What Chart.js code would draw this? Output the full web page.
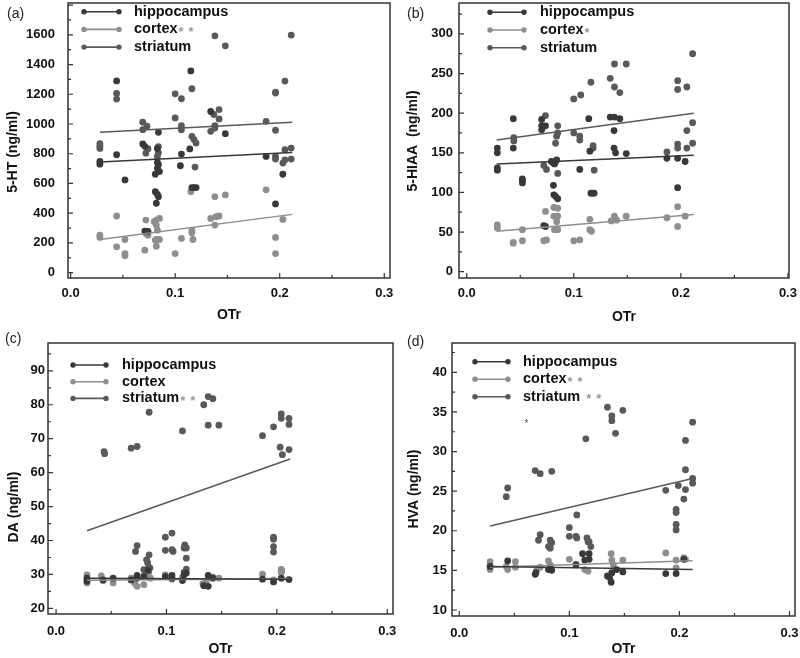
<!DOCTYPE html>
<html>
<head>
<meta charset="utf-8">
<title>OTr vs monoamines</title>
<script src="https://cdn.jsdelivr.net/npm/chart.js@4.4.1/dist/chart.umd.min.js"></script>
<style>
  body { margin: 0; background: #fff; }
  #wrap { position: relative; width: 800px; height: 658px; }
  canvas { position: absolute; }
</style>
</head>
<body>
<div id="wrap">
  <canvas id="chartA" width="400" height="330" style="left:0;top:0"></canvas>
  <canvas id="chartB" width="400" height="330" style="left:400px;top:0"></canvas>
  <canvas id="chartC" width="400" height="328" style="left:0;top:330px"></canvas>
  <canvas id="chartD" width="400" height="328" style="left:400px;top:330px"></canvas>
</div>
<script>
const regions = ['hippocampus', 'cortex', 'striatum'];
const regionColors = ['#383838', '#8e8e8e', '#595959'];
const fitX = [0.028, 0.212];
const xTicks = [0, 0.1, 0.2, 0.3];

// (a) 5-HT
const htHippocampus = [[0.028, 748], [0.028, 730], [0.044, 1290], [0.044, 793], [0.052, 624], [0.069, 866], [0.071, 850],
  [0.071, 280], [0.074, 278], [0.084, 944], [0.083, 836], [0.081, 662], [0.081, 545], [0.083, 527], [0.082, 467],
  [0.084, 511], [0.083, 741], [0.084, 726], [0.083, 703], [0.085, 680], [0.105, 719], [0.106, 798], [0.115, 1357],
  [0.114, 832], [0.116, 572], [0.118, 572], [0.120, 572], [0.134, 1084], [0.148, 935], [0.187, 782], [0.196, 462],
  [0.203, 662]];
const htCortex = [[0.028, 252], [0.028, 237], [0.044, 381], [0.044, 174], [0.052, 223], [0.052, 128], [0.052, 113],
  [0.072, 354], [0.072, 264], [0.074, 252], [0.071, 151], [0.080, 343], [0.082, 354], [0.082, 320], [0.085, 365],
  [0.083, 286], [0.082, 223], [0.082, 178], [0.085, 223], [0.081, 219], [0.1, 128], [0.106, 230], [0.115, 545],
  [0.116, 268], [0.116, 286], [0.117, 223], [0.138, 511], [0.134, 365], [0.138, 320], [0.139, 376], [0.142, 381],
  [0.148, 523], [0.187, 557], [0.196, 237], [0.196, 128], [0.203, 358]];
const htStriatum = [[0.028, 867], [0.028, 850], [0.028, 836], [0.044, 1206], [0.044, 1168], [0.069, 1012], [0.069, 962],
  [0.073, 985], [0.072, 804], [0.074, 834], [0.084, 848], [0.084, 806], [0.083, 782], [0.1, 1203], [0.1, 1041],
  [0.106, 989], [0.106, 962], [0.106, 1170], [0.116, 1237], [0.116, 917], [0.118, 895], [0.120, 872], [0.119, 710],
  [0.134, 951], [0.137, 1064], [0.138, 989], [0.138, 973], [0.138, 1593], [0.142, 1097], [0.142, 1034], [0.148, 1526],
  [0.187, 1018], [0.196, 1215], [0.196, 1208], [0.196, 958], [0.196, 782], [0.196, 764], [0.203, 737], [0.205, 1289],
  [0.205, 827], [0.205, 759], [0.211, 1598], [0.211, 838], [0.211, 764]];
const htFits = [[744, 809], [223, 392], [944, 1012]];
const htTicks = [0, 200, 400, 600, 800, 1000, 1200, 1400, 1600];
const htStars = ['', '**', ''];

// (b) 5-HIAA
const hiaaHippocampus = [[0.0286, 131], [0.0286, 128], [0.0286, 156], [0.0286, 150], [0.0435, 193], [0.0435, 156],
  [0.052, 117], [0.052, 115], [0.052, 112], [0.070, 192], [0.070, 184], [0.070, 179], [0.0736, 184], [0.072, 58],
  [0.0736, 57], [0.079, 139], [0.081, 137], [0.082, 136], [0.083, 139], [0.084, 141], [0.081, 109], [0.0814, 97],
  [0.083, 95], [0.085, 92], [0.1056, 129], [0.114, 193], [0.115, 152], [0.116, 99], [0.1174, 99], [0.119, 99],
  [0.134, 195], [0.138, 195], [0.143, 193], [0.1376, 178], [0.1376, 156], [0.139, 150], [0.149, 149], [0.187, 143],
  [0.197, 143], [0.197, 106], [0.204, 139]];
const hiaaCortex = [[0.0286, 59], [0.0286, 55], [0.0435, 37], [0.0435, 36], [0.052, 53], [0.052, 39], [0.0736, 76],
  [0.072, 39], [0.0745, 40], [0.0814, 81], [0.0814, 70], [0.082, 53], [0.084, 63], [0.085, 80], [0.085, 70],
  [0.085, 53], [0.100, 39], [0.1056, 40], [0.115, 66], [0.115, 53], [0.1165, 51], [0.135, 64], [0.138, 70],
  [0.14, 65], [0.149, 70], [0.187, 68], [0.197, 82], [0.197, 57], [0.204, 70]];
const hiaaStriatum = [[0.044, 169], [0.044, 165], [0.0736, 197], [0.072, 134], [0.0745, 129], [0.083, 162],
  [0.084, 171], [0.085, 175], [0.085, 184], [0.085, 124], [0.100, 218], [0.100, 175], [0.1065, 223], [0.1056, 171],
  [0.1056, 166], [0.116, 239], [0.118, 159], [0.118, 156], [0.119, 128], [0.134, 244], [0.138, 262], [0.138, 233],
  [0.143, 226], [0.149, 262], [0.187, 151], [0.197, 241], [0.197, 230], [0.197, 161], [0.197, 156], [0.2056, 233],
  [0.2056, 178], [0.2056, 156], [0.211, 275], [0.211, 188], [0.211, 162]];
const hiaaFits = [[136, 147], [51, 72], [166, 200]];
const hiaaTicks = [0, 50, 100, 150, 200, 250, 300];
const hiaaStars = ['', '*', ''];

// (c) DA
const daHippocampus = [[0.028, 28.0], [0.028, 28.9], [0.0426, 28.4], [0.0517, 28.9], [0.068, 28.4], [0.0734, 29.7],
  [0.0734, 28.9], [0.0795, 29.4], [0.0834, 31.2], [0.099, 29.4], [0.105, 29.7], [0.105, 28.9], [0.1145, 28.2],
  [0.116, 29.9], [0.118, 30.4], [0.1338, 26.7], [0.1378, 26.5], [0.1378, 29.7], [0.142, 28.9], [0.187, 28.6],
  [0.197, 27.8], [0.211, 28.5], [0.204, 28.9]];
const daCortex = [[0.028, 29.9], [0.028, 27.5], [0.041, 29.6], [0.0426, 28.2], [0.0517, 27.5], [0.068, 28.9],
  [0.0713, 27.3], [0.0734, 26.5], [0.0795, 27.0], [0.082, 29.4], [0.084, 30.6], [0.0855, 28.9], [0.099, 29.9],
  [0.105, 28.6], [0.1145, 29.2], [0.133, 27.3], [0.136, 28.0], [0.139, 29.2], [0.142, 29.2], [0.1475, 28.9],
  [0.187, 30.1], [0.197, 28.4], [0.204, 31.4], [0.204, 30.6]];
const daStriatum = [[0.044, 65.6], [0.0435, 66.2], [0.068, 67.2], [0.0734, 67.7], [0.0843, 77.8], [0.1145, 72.3],
  [0.1338, 80.0], [0.1378, 82.4], [0.142, 81.8], [0.1378, 74.0], [0.1475, 74.0], [0.187, 70.9], [0.197, 73.5],
  [0.204, 77.3], [0.204, 76.0], [0.203, 67.5], [0.205, 65.3], [0.211, 76.0], [0.211, 74.2], [0.211, 66.8],
  [0.072, 36.8], [0.0734, 38.5], [0.082, 34.3], [0.083, 33.4], [0.0843, 35.8], [0.0834, 31.6], [0.0795, 31.4],
  [0.085, 31.9], [0.099, 41.0], [0.099, 37.1], [0.105, 42.2], [0.105, 37.3], [0.106, 36.8], [0.116, 37.8],
  [0.1166, 38.7], [0.118, 37.8], [0.118, 34.8], [0.118, 31.6], [0.116, 30.7], [0.197, 41.0], [0.197, 40.4],
  [0.197, 38.2], [0.197, 36.6], [0.204, 31.4], [0.204, 30.9]];
const daFits = [[28.9, 28.6], [28.3, 28.7], [42.9, 64.0]];
const daTicks = [20, 30, 40, 50, 60, 70, 80, 90];
const daStars = ['', '', '**'];

// (d) HVA
const hvaHippocampus = [[0.028, 15.5], [0.044, 16.2], [0.069, 14.5], [0.0696, 14.7], [0.081, 15.1], [0.0826, 15.3],
  [0.084, 15.0], [0.106, 15.7], [0.112, 17.1], [0.114, 16.3], [0.118, 17.1], [0.118, 16.4], [0.1346, 14.3],
  [0.1365, 14.1], [0.138, 13.5], [0.1386, 14.7], [0.143, 15.1], [0.1486, 14.8], [0.1876, 14.6], [0.197, 14.6],
  [0.204, 16.4]];
const hvaCortex = [[0.028, 16.1], [0.028, 15.1], [0.0427, 15.5], [0.044, 15.1], [0.051, 16.1], [0.051, 15.4],
  [0.0705, 15.1], [0.0735, 15.4], [0.081, 16.2], [0.0826, 15.7], [0.100, 16.4], [0.106, 15.8], [0.114, 15.1],
  [0.117, 14.9], [0.138, 17.1], [0.1386, 16.3], [0.14, 15.7], [0.1486, 16.3], [0.1876, 17.2], [0.197, 16.3],
  [0.197, 15.3], [0.204, 16.6], [0.2055, 16.4]];
const hvaStriatum = [[0.1346, 35.6], [0.1386, 34.5], [0.1386, 33.9], [0.1486, 35.2], [0.142, 32.3], [0.115, 31.6],
  [0.069, 27.6], [0.0735, 27.2], [0.084, 27.5], [0.044, 25.4], [0.0427, 24.3], [0.1068, 22.0], [0.100, 20.4],
  [0.100, 19.3], [0.106, 19.3], [0.1068, 19.1], [0.0735, 19.5], [0.072, 18.8], [0.0826, 18.8], [0.084, 18.5],
  [0.081, 18.0], [0.0826, 17.8], [0.116, 19.1], [0.117, 18.6], [0.118, 18.6], [0.1195, 18.0], [0.1876, 25.1],
  [0.199, 25.7], [0.197, 22.7], [0.197, 22.3], [0.197, 20.8], [0.197, 20.1], [0.2055, 31.4], [0.2055, 27.7],
  [0.2055, 25.2], [0.204, 24.0], [0.212, 33.7], [0.212, 26.6], [0.212, 26.0]];
const hvaFits = [[15.5, 15.1], [15.4, 16.2], [20.6, 26.6]];
const hvaTicks = [10, 15, 20, 25, 30, 35, 40];
const hvaStars = ['', '**', ' **'];
const hvaNote = [0.061, 33.5];

const FONT = "'Liberation Sans', Arial, sans-serif";

const panels = [
  { id: 'chartA', tag: '(a)', yTitle: '5-HT (ng/ml)', series: [htHippocampus, htCortex, htStriatum], fits: htFits,
    yTicks: htTicks, stars: htStars, xRange: [-0.0025, 0.3055], yRange: [-36, 1814],
    area: { left: 68, right: 390, top: 3, bottom: 278 }, yPad: 13, xPad: 8, titlePad: 6,
    tagPos: [7, 14], yTitlePos: [13, 152], legend: { x1: 84, x2: 119, tx: 134, y: 11.7, gap: 17.7 } },
  { id: 'chartB', tag: '(b)', yTitle: '5-HIAA  (ng/ml)', series: [hiaaHippocampus, hiaaCortex, hiaaStriatum], fits: hiaaFits,
    yTicks: hiaaTicks, stars: hiaaStars, xRange: [-0.0072, 0.301], yRange: [-8, 339],
    area: { left: 59, right: 389, top: 3, bottom: 278 }, yPad: 6, xPad: 8, titlePad: 4,
    tagPos: [7, 14], yTitlePos: [13, 141], legend: { x1: 90, x2: 124, tx: 140, y: 12.3, gap: 17.7 } },
  { id: 'chartC', tag: '(c)', yTitle: 'DA (ng/ml)', series: [daHippocampus, daCortex, daStriatum], fits: daFits,
    yTicks: daTicks, stars: daStars, xRange: [-0.0073, 0.3052], yRange: [18.35, 98.2],
    area: { left: 48, right: 393, top: 13, bottom: 284 }, yPad: 3, xPad: 10, titlePad: 0,
    tagPos: [5, 9.5], yTitlePos: [14, 177], legend: { x1: 73, x2: 106, tx: 122, y: 35, gap: 16.7 } },
  { id: 'chartD', tag: '(d)', yTitle: 'HVA (ng/ml)', series: [hvaHippocampus, hvaCortex, hvaStriatum], fits: hvaFits,
    yTicks: hvaTicks, stars: hvaStars, note: hvaNote, xRange: [-0.0066, 0.305], yRange: [9.24, 43.7],
    area: { left: 52, right: 395, top: 13, bottom: 286 }, yPad: 5, xPad: 10, titlePad: 0,
    tagPos: [7, 12.5], yTitlePos: [14, 159], legend: { x1: 75, x2: 108, tx: 123, y: 31.7, gap: 17.5 } }
];

function drawTicks(ctx, scale, ticks, horizontal, area) {
  let step = ticks[1] - ticks[0];
  let half = step / 2;
  let kMin = Math.ceil(scale.min / half - 1e-9);
  let kMax = Math.floor(scale.max / half + 1e-9);
  ctx.beginPath();
  for (let k = kMin; k <= kMax; k++) {
    let v = k * half;
    let major = Math.abs(v / step - Math.round(v / step)) < 1e-6;
    let len = major ? 5 : 3;
    let p = scale.getPixelForValue(v);
    if (horizontal) {
      ctx.moveTo(p, area.bottom);
      ctx.lineTo(p, area.bottom - len);
    } else {
      ctx.moveTo(area.left, p);
      ctx.lineTo(area.left + len, p);
    }
  }
  ctx.stroke();
}

function noPadding(s) {
  s.paddingLeft = 0;
  s.paddingRight = 0;
  s.paddingTop = 0;
  s.paddingBottom = 0;
}

function decor(panel) {
  return {
    id: 'decor',
    afterDatasetsDraw(chart) {
      const { ctx, chartArea: a, scales: { x, y } } = chart;
      ctx.save();
      ctx.strokeStyle = '#333';
      ctx.lineWidth = 1.5;
      ctx.strokeRect(a.left, a.top, a.right - a.left, a.bottom - a.top);
      ctx.lineWidth = 1.2;
      drawTicks(ctx, x, xTicks, true, a);
      drawTicks(ctx, y, panel.yTicks, false, a);

      // legend
      let lg = panel.legend;
      regions.forEach((name, i) => {
        let ry = lg.y + i * lg.gap;
        ctx.strokeStyle = regionColors[i];
        ctx.fillStyle = regionColors[i];
        ctx.lineWidth = 1.6;
        ctx.beginPath();
        ctx.moveTo(lg.x1, ry);
        ctx.lineTo(lg.x2, ry);
        ctx.stroke();
        [lg.x1, lg.x2].forEach(px => {
          ctx.beginPath();
          ctx.arc(px, ry, 2.7, 0, Math.PI * 2);
          ctx.fill();
        });
        ctx.fillStyle = '#111';
        ctx.font = 'bold 14.5px ' + FONT;
        ctx.textAlign = 'left';
        ctx.textBaseline = 'middle';
        ctx.fillText(name, lg.tx, ry);
        let sx = lg.tx + ctx.measureText(name).width + 1;
        ctx.fillStyle = '#999';
        ctx.font = 'bold 13px ' + FONT;
        for (let ch of panel.stars[i]) {
          if (ch === ' ') { sx += 5; continue; }
          ctx.fillText('*', sx, ry + 3);
          sx += 10;
        }
      });

      if (panel.note) {
        ctx.fillStyle = '#555';
        ctx.font = '10px ' + FONT;
        ctx.textAlign = 'center';
        ctx.fillText('*', x.getPixelForValue(panel.note[0]), y.getPixelForValue(panel.note[1]));
      }

      ctx.fillStyle = '#222';
      ctx.font = '14px ' + FONT;
      ctx.textAlign = 'left';
      ctx.textBaseline = 'middle';
      ctx.fillText(panel.tag, panel.tagPos[0], panel.tagPos[1]);

      ctx.translate(panel.yTitlePos[0], panel.yTitlePos[1]);
      ctx.rotate(-Math.PI / 2);
      ctx.fillStyle = '#111';
      ctx.font = 'bold 14px ' + FONT;
      ctx.textAlign = 'center';
      ctx.fillText(panel.yTitle, 0, 0);
      ctx.restore();
    }
  };
}

function makeChart(panel) {
  let canvas = document.getElementById(panel.id);
  let W = canvas.width, H = canvas.height, a = panel.area;
  let datasets = [];
  panel.series.forEach((pts, i) => {
    datasets.push({
      type: 'line',
      label: regions[i] + ' fit',
      data: fitX.map((xv, j) => ({ x: xv, y: panel.fits[i][j] })),
      borderColor: regionColors[i],
      borderWidth: 1.5,
      pointRadius: 0,
      fill: false,
      order: 0
    });
  });
  panel.series.forEach((pts, i) => {
    datasets.push({
      type: 'scatter',
      label: regions[i],
      data: pts.map(p => ({ x: p[0], y: p[1] })),
      backgroundColor: regionColors[i],
      pointRadius: 3.4,
      pointBorderWidth: 0,
      order: 1
    });
  });

  return new Chart(canvas, {
    type: 'scatter',
    data: { datasets: datasets },
    options: {
      responsive: false,
      animation: false,
      layout: { autoPadding: false, padding: { left: 0, top: a.top, right: W - a.right, bottom: 0 } },
      plugins: { legend: { display: false }, tooltip: { enabled: false } },
      scales: {
        x: {
          type: 'linear',
          min: panel.xRange[0],
          max: panel.xRange[1],
          afterBuildTicks: s => { s.ticks = xTicks.map(v => ({ value: v })); },
          afterFit: s => { s.height = H - a.bottom; noPadding(s); },
          grid: { display: false, drawTicks: false },
          border: { display: false },
          ticks: {
            padding: panel.xPad,
            color: '#111',
            maxRotation: 0,
            font: { family: FONT, size: 13, weight: 'bold' },
            callback: v => v.toFixed(1)
          },
          title: {
            display: true,
            text: 'OTr',
            color: '#111',
            font: { family: FONT, size: 14, weight: 'bold' },
            padding: { top: 0, bottom: panel.titlePad }
          }
        },
        y: {
          type: 'linear',
          min: panel.yRange[0],
          max: panel.yRange[1],
          afterBuildTicks: s => { s.ticks = panel.yTicks.map(v => ({ value: v })); },
          afterFit: s => { s.width = a.left; noPadding(s); },
          grid: { display: false, drawTicks: false },
          border: { display: false },
          ticks: {
            padding: panel.yPad,
            color: '#111',
            font: { family: FONT, size: 13, weight: 'bold' },
            callback: v => String(v)
          }
        }
      }
    },
    plugins: [decor(panel)]
  });
}

panels.forEach(p => makeChart(p));
</script>
</body>
</html>
